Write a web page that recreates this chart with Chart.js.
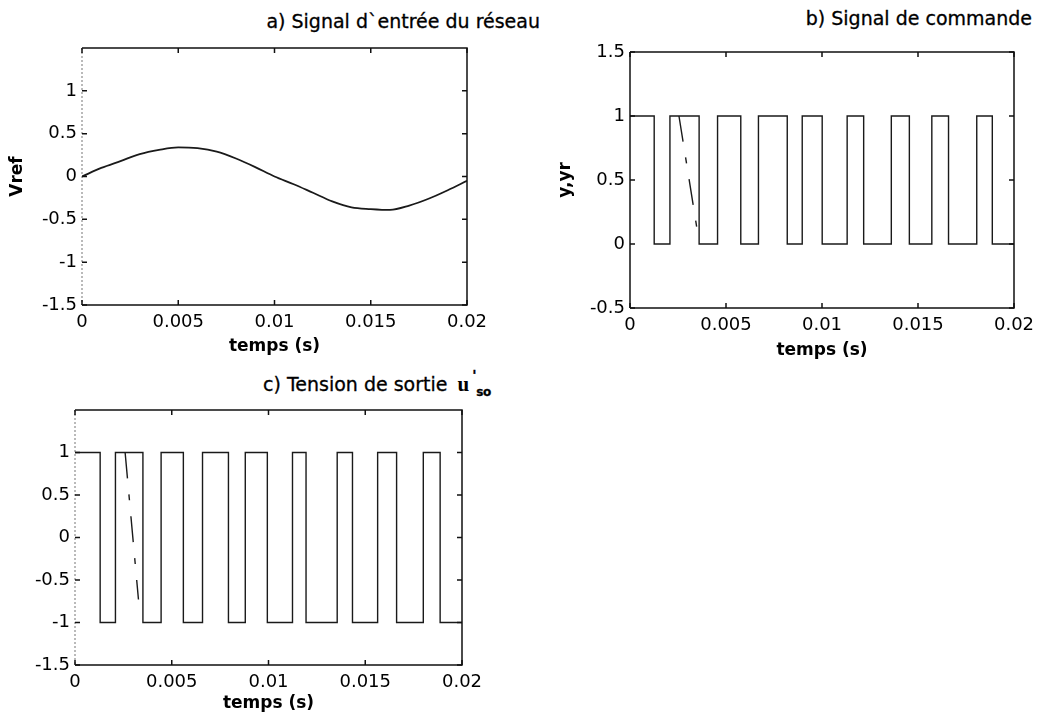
<!DOCTYPE html>
<html>
<head>
<meta charset="utf-8">
<script src="https://cdn.jsdelivr.net/npm/chart.js@4.4.1/dist/chart.umd.min.js"></script>
<style>
  body { margin: 0; background: #fff; width: 1055px; height: 726px; position: relative; overflow: hidden; }
  canvas { position: absolute; }
  .ttl { position: absolute; font-family: "DejaVu Sans", sans-serif; font-size: 19px; line-height: 19px; color: #000; white-space: nowrap; -webkit-text-stroke: 0.3px #000; }
  .u { font-family: "Liberation Serif", serif; font-weight: bold; font-size: 21px; margin-left: 10px; -webkit-text-stroke: 0; }
  .sx { position: relative; display: inline-block; width: 28px; }
  .pr { position: absolute; left: 3px; top: -9px; font-size: 14px; font-weight: bold; }
  .sb { position: relative; left: 7px; top: 5px; font-size: 12px; font-weight: bold; letter-spacing: -0.3px; }
</style>
</head>
<body>
<div class="ttl" style="right:515px; top:12px;">a) Signal d`entrée du réseau</div>
<div class="ttl" style="right:23px; top:9px;">b) Signal de commande</div>
<div class="ttl" style="left:263px; top:375px;">c) Tension de sortie<span class="u">u</span><span class="sx"><span class="pr">'</span><span class="sb">so</span></span></div>

<canvas id="ca" width="545" height="365" style="left:0;top:0"></canvas>
<canvas id="cb" width="535" height="365" style="left:520px;top:0"></canvas>
<canvas id="cc" width="520" height="366" style="left:0;top:360px"></canvas>

<script>
// ---- data ----
const xTicks = [0, 0.005, 0.01, 0.015, 0.02];
const xTickLabels = ['0', '0.005', '0.01', '0.015', '0.02'];

const yTicksA = [-1.5, -1, -0.5, 0, 0.5, 1];
const yTickLabelsA = ['-1.5', '-1', '-0.5', '0', '0.5', '1'];
const yTicksB = [-0.5, 0, 0.5, 1, 1.5];
const yTickLabelsB = ['-0.5', '0', '0.5', '1', '1.5'];

// a) network input signal
const tRef = [0, 0.001, 0.002, 0.003, 0.004, 0.005, 0.006, 0.007, 0.008, 0.009, 0.010,
              0.011, 0.012, 0.013, 0.014, 0.015, 0.016, 0.017, 0.018, 0.019, 0.020];
const vref = [0, 0.10, 0.18, 0.26, 0.31, 0.34, 0.33, 0.29, 0.21, 0.11, 0.00,
              -0.09, -0.19, -0.29, -0.36, -0.38, -0.39, -0.34, -0.26, -0.16, -0.05];

// b) command signal y (switching instants, level after each instant)
const tCmd = [0, 0.00126, 0.00208, 0.00360, 0.00456, 0.00577, 0.00669, 0.00819, 0.00897, 0.01001,
              0.01131, 0.01217, 0.01361, 0.01455, 0.01572, 0.01659, 0.01806, 0.01887, 0.02];
const yCmd = [1, 0, 1, 0, 1, 0, 1, 0, 1, 0, 1, 0, 1, 0, 1, 0, 1, 0, 0];
// yr (dash-dot) where it leaves y
const tCmdR = [0.00255, 0.00352];
const yCmdR = [1, 0.09];

// c) output voltage
const tOut = [0, 0.00130, 0.00209, 0.00351, 0.00445, 0.00560, 0.00659, 0.00793, 0.00880, 0.00994,
              0.01124, 0.01194, 0.01355, 0.01434, 0.01564, 0.01662, 0.01800, 0.01887, 0.02];
const uOut = [1, -1, 1, -1, 1, -1, 1, -1, 1, -1, 1, -1, 1, -1, 1, -1, 1, -1, -1];
const tOutR = [0.00259, 0.00328];
const uOutR = [1, -0.73];

// ---- styling ----
const ink = '#000';
const tickFont = { family: 'DejaVu Sans', size: 18 };
const axisFont = { family: 'DejaVu Sans', size: 17, weight: 'bold' };

const pts = (xs, ys) => xs.map((x, i) => ({ x: x, y: ys[i] }));

// box round the plot area and inward tick marks on all four sides
const frame = {
  id: 'frame',
  afterDatasetsDraw(chart, args, opts) {
    const { ctx, chartArea: a, scales: { x, y } } = chart;
    ctx.save();
    ctx.strokeStyle = '#111';
    ctx.lineWidth = 1.5;
    ctx.beginPath();
    ctx.moveTo(a.left, a.top); ctx.lineTo(a.right, a.top);
    ctx.lineTo(a.right, a.bottom); ctx.lineTo(a.left, a.bottom);
    ctx.stroke();
    // left edge (faint in the scan for a and c)
    ctx.beginPath();
    if (opts.faintLeft) { ctx.strokeStyle = '#777'; ctx.lineWidth = 1; ctx.setLineDash([2, 2]); }
    ctx.moveTo(a.left, a.top); ctx.lineTo(a.left, a.bottom);
    ctx.stroke();
    ctx.setLineDash([]);
    ctx.strokeStyle = '#111';
    ctx.lineWidth = 1.5;
    ctx.beginPath();
    x.ticks.forEach(t => {
      const px = x.getPixelForValue(t.value);
      ctx.moveTo(px, a.bottom); ctx.lineTo(px, a.bottom - 5);
      ctx.moveTo(px, a.top); ctx.lineTo(px, a.top + 5);
    });
    y.ticks.forEach(t => {
      const py = y.getPixelForValue(t.value);
      ctx.moveTo(a.left, py); ctx.lineTo(a.left + 5, py);
      ctx.moveTo(a.right, py); ctx.lineTo(a.right - 5, py);
    });
    ctx.stroke();
    ctx.restore();
  }
};

function xScale(h, padBottom) {
  return {
    type: 'linear', min: 0, max: 0.02,
    grid: { display: false, drawTicks: false },
    border: { display: false },
    afterBuildTicks: s => { s.ticks = xTicks.map(v => ({ value: v })); },
    afterFit: s => { s.height = h; },
    ticks: { font: tickFont, color: ink, padding: 7, maxRotation: 0, autoSkip: false,
             callback: (v, i) => xTickLabels[i] },
    title: { display: true, text: 'temps (s)', font: axisFont, color: ink,
             padding: { top: 0, bottom: padBottom } }
  };
}

function yScale(min, max, ticks, labels, w, title, padTop) {
  return {
    type: 'linear', min: min, max: max,
    grid: { display: false, drawTicks: false },
    border: { display: false },
    afterBuildTicks: s => { s.ticks = ticks.map(v => ({ value: v })); },
    afterFit: s => { s.width = w; },
    ticks: { font: tickFont, color: ink, padding: 5, autoSkip: false,
             callback: (v, i) => labels[i] },
    title: { display: !!title, text: title, font: axisFont, color: ink,
             padding: { top: padTop, bottom: 0 } }
  };
}

function lineSet(data, opts) {
  return Object.assign({
    data: data, borderColor: '#1a1a1a', borderWidth: 1.4,
    pointRadius: 0, fill: false, tension: 0
  }, opts || {});
}

function base(padding, scales, faintLeft) {
  return {
    responsive: false, animation: false, events: [],
    layout: { padding: padding },
    scales: scales,
    plugins: { legend: { display: false }, tooltip: { enabled: false },
               frame: { faintLeft: faintLeft } }
  };
}

// a) Vref
new Chart(document.getElementById('ca'), {
  type: 'line',
  data: { datasets: [lineSet(pts(tRef, vref), { cubicInterpolationMode: 'monotone', borderWidth: 1.8 })] },
  options: base({ top: 48, right: 78, bottom: 0, left: 0 }, {
    x: xScale(60, 8),
    y: yScale(-1.5, 1.5, yTicksA, yTickLabelsA, 82, 'Vref', 7)
  }, true),
  plugins: [frame]
});

// b) y, yr
new Chart(document.getElementById('cb'), {
  type: 'line',
  data: { datasets: [
    lineSet(pts(tCmd, yCmd), { stepped: true }),
    lineSet(pts(tCmdR, yCmdR), { borderDash: [26, 16, 6, 16] })
  ] },
  options: base({ top: 52, right: 41, bottom: 0, left: 0 }, {
    x: xScale(57, 4),
    y: yScale(-0.5, 1.5, yTicksB, yTickLabelsB, 110, 'y,yr', 35)
  }, false),
  plugins: [frame]
});

// c) output voltage
new Chart(document.getElementById('cc'), {
  type: 'line',
  data: { datasets: [
    lineSet(pts(tOut, uOut), { stepped: true }),
    lineSet(pts(tOutR, uOutR), { borderDash: [26, 16, 6, 16] })
  ] },
  options: base({ top: 50, right: 58, bottom: 0, left: 0 }, {
    x: xScale(61, 12),
    y: yScale(-1.5, 1.5, yTicksA, yTickLabelsA, 75, '', 0)
  }, true),
  plugins: [frame]
});
</script>
</body>
</html>
